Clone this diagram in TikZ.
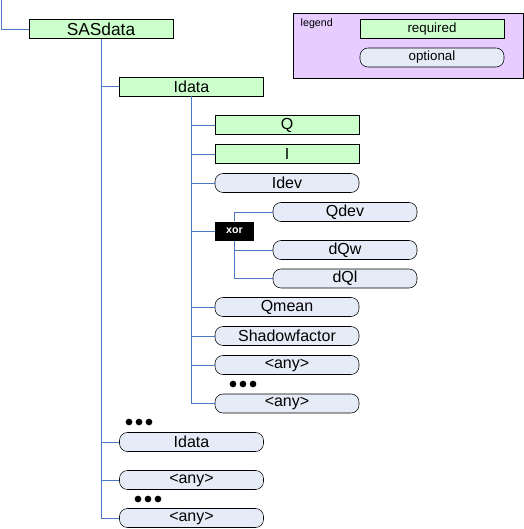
\documentclass[tikz,border=0pt]{standalone}
\usepackage{fontspec}
\setmainfont{Liberation Sans}
\definecolor{reqgreen}{HTML}{CCFFCC}
\definecolor{optblue}{HTML}{E6ECF7}
\definecolor{legpurple}{HTML}{E6CCFF}
\definecolor{linkblue}{HTML}{4A78C2}
\tikzset{
  req/.style={draw, fill=reqgreen, minimum width=108pt, minimum height=14.25pt, inner sep=0pt, font=\fontsize{12}{13}\selectfont},
  opt/.style={draw, fill=optblue, rounded corners=6pt, minimum width=108pt, minimum height=14.25pt, inner sep=0pt, font=\fontsize{12}{13}\selectfont},
  link/.style={draw=linkblue},
  dot/.style={fill, circle, inner sep=0pt, minimum size=5pt}
}
\begin{document}
\begin{tikzpicture}[x=0.75pt,y=-0.75pt]
	\useasboundingbox (0,0) rectangle (524,529);
	% legend
	\draw [fill=legpurple] (293,13) rectangle (523,78);
	\node [anchor=north west, font=\fontsize{8}{9}\selectfont] (legtitle) at (296,14) {legend};
	\node [req, font=\fontsize{10}{11}\selectfont] (legreq) at (432,29) {required};
	\node [opt, font=\fontsize{10}{11}\selectfont] (legopt) at (432,57.5) {optional};
	% tree
	\coordinate (root) at (1,0);
	\node [req, font=\fontsize{13}{14}\selectfont] (sas) at (101,29) {SASdata};
	\node [req] (idata) at (191.5,86.5) {Idata};
	\node [req] (q) at (287,125) {Q};
	\node [req] (i) at (287,154) {I};
	\node [opt] (idev) at (287,183) {Idev};
	\node [fill=black, text=white, minimum width=29pt, minimum height=14.25pt, inner sep=0pt, font=\fontsize{8}{9}\selectfont\bfseries] (xor) at (234.5,231) {xor};
	\node [opt] (qdev) at (345,212) {Qdev};
	\node [opt] (dqw) at (345,250) {dQw};
	\node [opt] (dql) at (345,278.5) {dQl};
	\node [opt] (qmean) at (287,307) {Qmean};
	\node [opt] (shadow) at (287,336) {Shadowfactor};
	\node [opt] (anya) at (287,365) {<any>};
	\node [opt] (anyb) at (287,403.5) {<any>};
	\node [opt] (idatab) at (191.5,442) {Idata};
	\node [opt] (anyc) at (191.5,480) {<any>};
	\node [opt] (anyd) at (191.5,518) {<any>};
	% dots
	\foreach \x/\y in {233/384, 243/384, 253/384, 129/422, 139/422, 149/422, 138/499, 148/499, 158/499}
		\node [dot] at (\x,\y) {};
	% connectors
	\draw [link] (root) |- (sas.west);
	\foreach \n in {idata, idatab, anyc, anyd}
		\draw [link] (sas.south) |- (\n.west);
	\foreach \n in {q, i, idev, xor, qmean, shadow, anya, anyb}
		\draw [link] (idata.south) |- (\n.west);
	\draw [link] (xor.north) |- (qdev.west);
	\foreach \n in {dqw, dql}
		\draw [link] (xor.south) |- (\n.west);
\end{tikzpicture}
\end{document}
